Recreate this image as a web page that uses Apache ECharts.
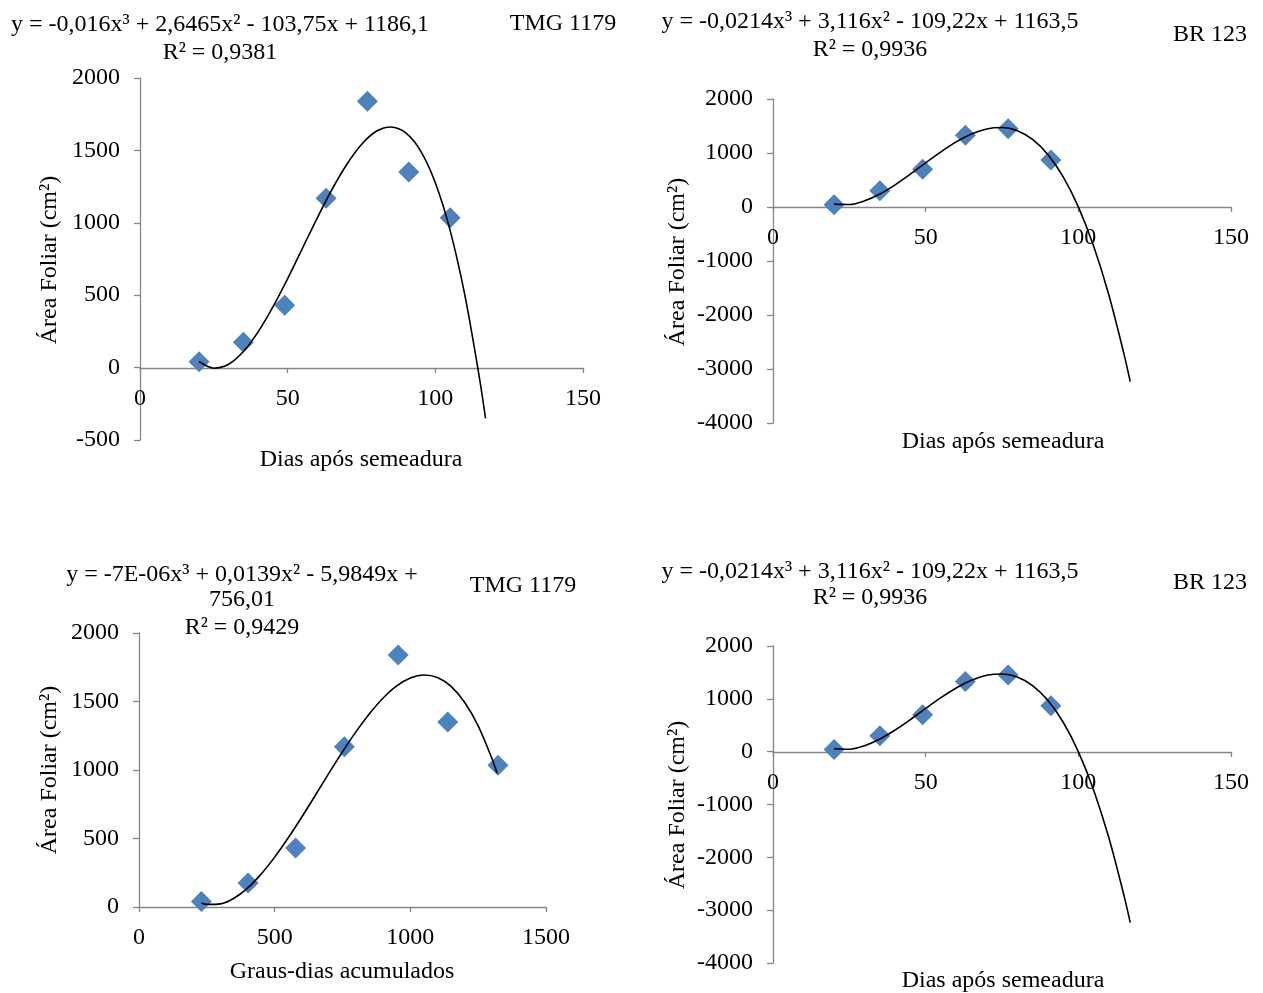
<!DOCTYPE html>
<html>
<head>
<meta charset="utf-8">
<script src="https://cdn.jsdelivr.net/npm/echarts@6/dist/echarts.min.js"></script>
<style>
  html, body { margin: 0; padding: 0; background: #fff; }
  #app { width: 1263px; height: 993px; }
</style>
</head>
<body>
<div id="app"></div>
<script>
// pontos observados
var diasTMG = [20, 35, 49, 63, 77, 91, 105]
var areaTMG = [40, 175, 430, 1170, 1840, 1350, 1035]
var grausTMG = [230, 402, 577, 757, 955, 1138, 1323]
var diasBR = [20, 35, 49, 63, 77, 91]
var areaBR = [40, 300, 700, 1330, 1450, 870]

// linhas de tendencia
var trendDias = [20, 25, 30, 35, 40, 45, 50, 55, 60, 65, 70, 75, 80, 85, 90, 95, 100, 105, 110, 115, 117]
var trendTMG = [42, -4, 23, 111, 247, 419, 615, 824, 1033, 1230, 1403, 1541, 1632, 1662, 1621, 1497, 1276, 948, 500, -79, -351]
var trendBR = [54, 46, 114, 240, 411, 608, 818, 1022, 1206, 1352, 1446, 1471, 1412, 1251, 973, 562, 2, -724, -1631, -2734, -3235]
var trendGraus = [230, 250, 300, 350, 400, 450, 500, 550, 600, 650, 700, 750, 800, 850, 900, 950, 1000, 1050, 1100, 1150, 1200, 1250, 1300, 1320]
var trendGrausTMG = [30, 19, 23, 64, 138, 240, 364, 505, 657, 816, 977, 1133, 1280, 1413, 1526, 1614, 1671, 1693, 1675, 1610, 1494, 1322, 1088, 976]

var font = 'Liberation Serif, Times New Roman, serif'
var axisColor = '#868686'

var pair = (xs, ys) => xs.map((x, i) => [x, ys[i]])

// offset: sobe o eixo x ate a linha do zero
var mkX = (idx, max, interval, offset) => ({
    type: 'value', gridIndex: idx, min: 0, max: max, interval: interval,
    offset: offset,
    splitLine: {show: false},
    axisLine: {onZero: false, lineStyle: {color: axisColor, width: 1.3}},
    axisTick: {length: 5, lineStyle: {color: axisColor, width: 1.3}},
    axisLabel: {color: '#000', fontFamily: font, fontSize: 24, margin: 19, formatter: (v) => String(v)}
})

var mkY = (idx, min, max, interval) => ({
    type: 'value', gridIndex: idx, min: min, max: max, interval: interval,
    splitLine: {show: false},
    axisLine: {show: true, onZero: false, lineStyle: {color: axisColor, width: 1.3}},
    axisTick: {show: true, length: 6, lineStyle: {color: axisColor, width: 1.3}},
    axisLabel: {color: '#000', fontFamily: font, fontSize: 24, margin: 20, formatter: (v) => String(v)}
})

var pts = (idx, data) => ({
    type: 'scatter', xAxisIndex: idx, yAxisIndex: idx, data: data,
    symbol: 'diamond', symbolSize: [21, 21],
    itemStyle: {color: '#4F81BD', opacity: 1}, z: 3
})

var curve = (idx, data) => ({
    type: 'line', xAxisIndex: idx, yAxisIndex: idx, data: data,
    smooth: 0.3, showSymbol: false, symbol: 'none',
    lineStyle: {color: '#000', width: 1.6}, z: 4
})

var txt = (text, x, y, align, rot) => ({
    type: 'text', x: x, y: y, rotation: rot || 0,
    style: {text: text, font: '24px ' + font, fill: '#000',
        textAlign: align || 'center', textVerticalAlign: 'middle'}
})

var chart = echarts.init(document.getElementById('app'))

chart.setOption({
    animation: false,
    grid: [
        {left: 140, top: 78, width: 443, height: 362},
        {left: 773, top: 99, width: 458, height: 324},
        {left: 139, top: 633, width: 407, height: 274},
        {left: 773, top: 646, width: 458, height: 317}
    ],
    xAxis: [mkX(0, 150, 50, -72), mkX(1, 150, 50, -216), mkX(2, 1500, 500, 0), mkX(3, 150, 50, -211)],
    yAxis: [mkY(0, -500, 2000, 500), mkY(1, -4000, 2000, 1000), mkY(2, 0, 2000, 500), mkY(3, -4000, 2000, 1000)],
    series: [
        pts(0, pair(diasTMG, areaTMG)), curve(0, pair(trendDias, trendTMG)),
        pts(1, pair(diasBR, areaBR)), curve(1, pair(trendDias, trendBR)),
        pts(2, pair(grausTMG, areaTMG)), curve(2, pair(trendGraus, trendGrausTMG)),
        pts(3, pair(diasBR, areaBR)), curve(3, pair(trendDias, trendBR))
    ],
    graphic: [
        // painel 1
        txt('y = -0,016x³ + 2,6465x² - 103,75x + 1186,1', 220, 25),
        txt('R² = 0,9381', 220, 53),
        txt('TMG 1179', 563, 24),
        txt('Área Foliar (cm²)', 50, 260, 'center', Math.PI / 2),
        txt('Dias após semeadura', 361, 460),
        // painel 2
        txt('y = -0,0214x³ + 3,116x² - 109,22x + 1163,5', 870, 22),
        txt('R² = 0,9936', 870, 50),
        txt('BR 123', 1210, 35),
        txt('Área Foliar (cm²)', 678, 262, 'center', Math.PI / 2),
        txt('Dias após semeadura', 1003, 442),
        // painel 3
        txt('y = -7E-06x³ + 0,0139x² - 5,9849x +', 242, 575),
        txt('756,01', 242, 600),
        txt('R² = 0,9429', 242, 628),
        txt('TMG 1179', 523, 586),
        txt('Área Foliar (cm²)', 50, 770, 'center', Math.PI / 2),
        txt('Graus-dias acumulados', 342, 972),
        // painel 4
        txt('y = -0,0214x³ + 3,116x² - 109,22x + 1163,5', 870, 572),
        txt('R² = 0,9936', 870, 598),
        txt('BR 123', 1210, 583),
        txt('Área Foliar (cm²)', 678, 805, 'center', Math.PI / 2),
        txt('Dias após semeadura', 1003, 981)
    ]
})
</script>
</body>
</html>
